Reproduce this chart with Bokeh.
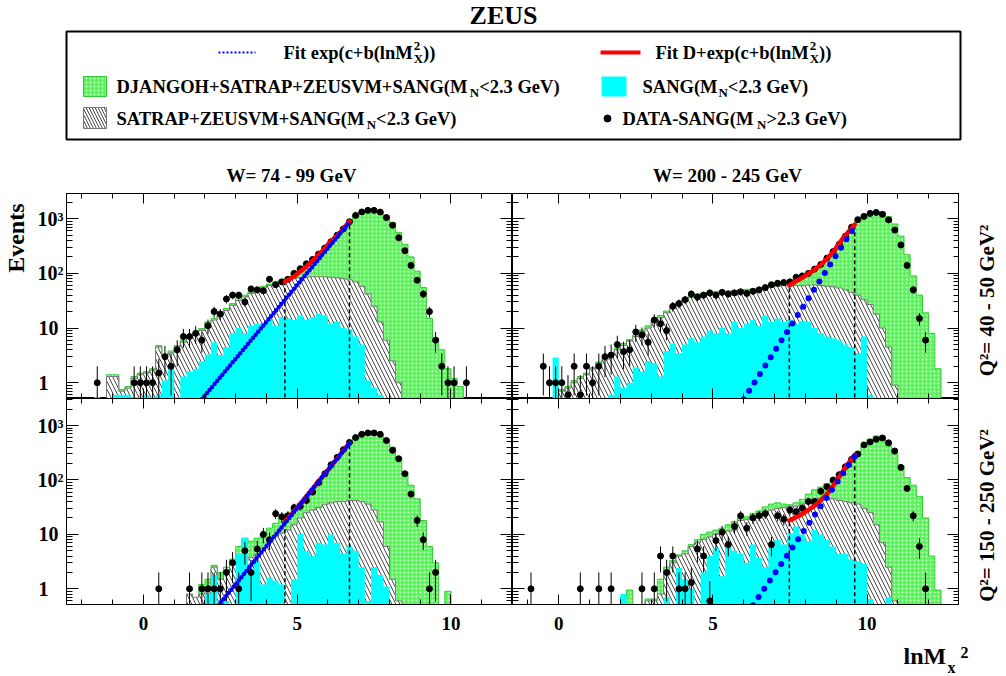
import math
from bokeh.plotting import figure
from bokeh.models import Range1d, FixedTicker, LinearAxis, LogAxis, CustomJSTickFormatter
from bokeh.layouts import column, row
from bokeh.core.properties import value
from bokeh.embed import file_html
from bokeh.resources import INLINE

FONT = "Liberation Serif"
BIN = 0.2      # histogram bin width in lnMx^2
BOT = 0.3      # floor (below the visible y range)

# ---------------- panel 1 : W = 74-99 GeV, Q2 = 40-50 GeV2 ----------------
P1_green_x0 = -1.2
P1_green = [1.4, 1.4, 0.75, 0.85, 1.3, 1.5, 1.6, 1.8, 4.8, 3.2, 3.8, 4.8, 6, 7, 8, 9.8, 13, 15, 18.5, 23,
            28, 35, 40, 46, 52, 58, 64, 70, 76, 85, 105, 125, 155, 190, 240, 310, 400, 520, 680, 900,
            1150, 1350, 1450, 1450, 1350, 1150, 850, 560, 340, 200, 110, 55, 15, 6.5, 4, 1.8, 1.2, 0.85]
P1_hatch_x0 = -1.2
P1_hatch = [1.3, 1.3, 0.7, 0.8, 1.2, 1.4, 1.5, 1.7, 4.5, 3, 3.5, 4.5, 5.5, 6.5, 7.5, 9, 12, 14, 17, 21,
            26, 32, 37, 43, 48, 54, 60, 66, 72, 77, 81, 84, 86, 87, 87, 86, 85, 83, 80, 76,
            70, 58, 42, 25, 13, 6, 2.5, 1.0, 0.45]
P1_cyan_x0 = -1.6
P1_cyan = [0.55, 0, 0, 0.6, 0.6, 0.6, 0.55, 0.55, 0.6, 0.55, 0.6, 1.1, 1.8, 0.55, 1.3, 1.6, 1.8, 2.5, 3.3, 5.5,
           3.2, 4.5, 8, 10, 8, 11, 12, 12, 14, 11, 16, 15, 14, 17, 14, 16, 18, 17, 12, 13,
           10, 9.5, 7, 5, 1.1, 0.8, 0.6]
P1_data_x = [-1.5, -0.3, -0.1, 0.1, 0.3, 0.5, 0.7, 0.9, 1.1, 1.3, 1.5, 1.7, 1.9, 2.1, 2.3, 2.5, 2.7, 2.9,
             3.1, 3.3, 3.5, 3.7, 3.9, 4.1, 4.3, 4.5, 4.7, 4.9, 5.1, 5.3, 5.5, 5.7, 5.9, 6.1, 6.3, 6.5,
             6.7, 6.9, 7.1, 7.3, 7.5, 7.7, 7.9, 8.1, 8.3, 8.5, 8.7, 8.9, 9.1, 9.3, 9.5, 9.7, 9.9, 10.1, 10.5]
P1_data_y = [1, 1, 1, 1, 1, 1.5, 3, 2, 4, 7, 7, 8, 6, 11, 20, 18, 34, 40,
             40, 30, 52, 50, 48, 78, 62, 70, 78, 100, 122, 150, 180, 225, 290, 380, 500, 650,
             880, 1150, 1330, 1420, 1420, 1320, 1050, 760, 450, 260, 140, 75, 42, 20, 6, 2, 1, 1, 1]
P1_red_x = [4.6, 4.9, 5.2, 5.5, 5.8, 6.1, 6.4, 6.7]
P1_red_y = [70, 88, 120, 170, 250, 390, 560, 890]
P1_blue_x = [1.9, 6.7]
P1_blue_y = [0.5, 860]
P1_cut_x = [4.6, 6.7]
P1_cut_top = [70, 890]

# ---------------- panel 2 : W = 200-245 GeV, Q2 = 40-50 GeV2 ----------------
P2_green_x0 = 0.0
P2_green = [0.75, 0.85, 1.1, 1.3, 1.5, 1.9, 2.4, 2.8, 3.4, 4.3, 5.2, 6.2, 7.5, 9.2, 11, 14, 17, 20.5, 25, 30,
            35, 39, 42, 44, 45, 46, 46.5, 47.5, 48.5, 50, 51, 52, 54, 57, 60, 63, 66, 72, 80, 90,
            100, 120, 145, 190, 250, 340, 480, 680, 900, 1100, 1250, 1350, 1320, 1100, 800, 480, 220, 90, 40, 19,
            8, 1.8]
P2_hatch_x0 = 0.0
P2_hatch = [0.7, 0.8, 1.0, 1.2, 1.4, 1.8, 2.2, 2.6, 3.2, 4, 4.8, 5.8, 7, 8.5, 10, 13, 15.5, 19, 23, 28,
            33, 36, 39, 41, 42, 43, 43, 44, 45, 46, 47, 48, 50, 53, 56, 58, 60, 60, 60, 60,
            61, 61, 60, 58, 57, 54, 50, 45, 40, 33, 27, 18, 10, 4.5, 0.9]
P2_cyan_x0 = -0.2
P2_cyan = [2.9, 0, 0, 0, 0, 0, 0, 0, 0, 0.6, 1.3, 0.8, 1.0, 1.9, 1.6, 2.5, 2.3, 1.3, 3.8, 5.2,
           3.5, 5, 6.5, 5.5, 7, 9, 8, 10, 8, 13, 10, 12, 14, 11, 17, 13, 15, 13, 14, 12,
           13.6, 13, 10, 8, 7, 6.5, 6, 5, 4.5, 3.5, 7, 0.6]
P2_data_x = [-0.5, -0.3, -0.1, 0.1, 0.3, 0.5, 0.7, 0.9, 1.1, 1.3, 1.5, 1.7, 1.9, 2.1, 2.3, 2.5, 2.7, 2.9,
             3.1, 3.3, 3.5, 3.7, 3.9, 4.1, 4.3, 4.5, 4.7, 4.9, 5.1, 5.3, 5.5, 5.7, 5.9, 6.1, 6.3, 6.5,
             6.7, 6.9, 7.1, 7.3, 7.5, 7.7, 7.9, 8.1, 8.3, 8.5, 8.7, 8.9, 9.1, 9.3, 9.5, 9.7, 9.9, 10.1,
             10.3, 10.5, 10.7, 10.9, 11.1, 11.3, 11.5, 11.7, 11.9]
P2_data_y = [2, 1, 1, 1, 0.6, 2, 0.6, 2, 1, 2, 3, 3.2, 5, 3.7, 4, 8.5, 7.5, 5.5,
             14, 12, 9, 25, 28, 33, 42, 37, 40, 44, 40, 45, 42, 44, 46, 43, 47, 50,
             55, 62, 66, 68, 70, 85, 90, 100, 120, 145, 190, 250, 340, 480, 700, 960, 1100, 1250,
             1300, 1200, 950, 620, 330, 140, 50, 15, 6]
P2_red_x = [7.48, 7.7, 7.93, 8.2, 8.47, 8.7, 8.9, 9.2, 9.4, 9.6]
P2_red_y = [60, 72, 85, 108, 139, 185, 245, 425, 580, 780]
P2_blue_x = [6.0, 9.6]
P2_blue_y = [0.5, 720]
P2_cut_x = [7.48, 9.6]
P2_cut_top = [60, 790]

# ---------------- panel 3 : W = 74-99 GeV, Q2 = 150-250 GeV2 ----------------
P3_green_x0 = 1.8
P3_green = [1.2, 1.5, 2.7, 2, 2.5, 3.5, 6, 8.5, 7.5, 8.5, 10, 13, 16, 20, 24, 30, 37, 46, 60, 82,
            115, 165, 240, 340, 470, 620, 720, 760, 740, 680, 560, 400, 250, 140, 80, 45, 18, 6, 3, 0.45,
            0.9]
P3_hatch_x0 = 1.4
P3_hatch = [0.8, 0.7, 0.8, 1.0, 2.5, 1.5, 2, 2.8, 3, 3.2, 3.8, 4.3, 5.5, 7, 9, 10.5, 12, 15, 20, 25,
            28, 31, 35, 38, 40, 40, 42, 42, 40, 36, 28, 17, 6, 1.5, 0.6]
P3_cyan_x0 = 2.0
P3_cyan = [0.8, 1.8, 0, 0.6, 0, 4.4, 8.7, 2, 3.2, 1.2, 1.6, 1.4, 1.2, 0, 1.5, 10.3, 5, 4, 7, 6.5,
           10, 7, 4.4, 6, 5, 2.5, 0.6, 2.5, 1.8, 1.1]
P3_data_x = [0.5, 1.5, 1.9, 2.1, 2.3, 2.5, 2.7, 2.9, 3.1, 3.3, 3.5, 3.7, 3.9, 4.1, 4.3, 4.5, 4.7, 4.9,
             5.1, 5.3, 5.5, 5.7, 5.9, 6.1, 6.3, 6.5, 6.7, 6.9, 7.1, 7.3, 7.5, 7.7, 7.9, 8.1, 8.3, 8.5,
             8.7, 8.9, 9.1, 9.3, 9.5]
P3_data_y = [1, 1, 1, 1, 1, 1, 2, 3, 1, 5, 2, 5.4, 10, 8, 24, 21, 22, 31,
             33, 42, 60, 90, 130, 190, 260, 360, 490, 600, 690, 730, 730, 690, 530, 350, 245, 130,
             55, 18, 8, 1, 2]
P3_red_x = [4.6, 5.0, 5.5, 6.0, 6.4, 6.7]
P3_red_y = [17, 31, 69, 152, 295, 475]
P3_blue_x = [2.45, 6.7]
P3_blue_y = [0.5, 470]
P3_cut_x = [4.6, 6.7]
P3_cut_top = [17, 470]

# ---------------- panel 4 : W = 200-245 GeV, Q2 = 150-250 GeV2 ----------------
P4_green_x0 = 2.0
P4_green = [0.7, 0.95, 0, 0, 0.65, 0.65, 1.5, 2.5, 3.3, 4.2, 5, 6.5, 8, 10, 11, 12, 13, 15, 17, 20,
            21, 24, 27, 32, 36, 38, 36, 35, 38, 44, 55, 66, 74, 85, 100, 130, 180, 240, 320, 420,
            560, 640, 620, 420, 300, 180, 110, 80, 50, 20, 4, 0.95]
P4_hatch_x0 = 2.8
P4_hatch = [0.6, 0.6, 0.8, 1.8, 3, 4, 4.4, 6, 7, 8, 9, 10, 11, 11.5, 12, 18, 19, 21, 23, 25,
            28, 30, 31, 33, 33, 36, 42, 45, 46, 48, 45, 42, 40, 38, 36, 30, 25, 15, 7, 2.5,
            0.6]
P4_cyan_x0 = 2.0
P4_cyan = [0.8, 0, 0, 0, 0, 0, 0, 0.7, 0, 2.4, 1.5, 1, 0, 2, 4, 5.6, 1.7, 7, 5, 4.4,
           3, 6.5, 3.7, 2.5, 5.6, 8, 6.5, 10.4, 14, 10, 7.5, 12, 10, 8, 6, 4.4, 4.4, 3.5, 3.2, 2.9,
           0.65, 0, 0, 0.7]
P4_data_x = [-0.9, 0.7, 1.3, 1.7, 2.7, 3.1, 3.3, 3.5, 3.7, 3.9, 4.1, 4.3, 4.5, 4.7, 4.9, 5.1, 5.3, 5.5,
             5.7, 5.9, 6.1, 6.3, 6.5, 6.7, 6.9, 7.1, 7.3, 7.5, 7.7, 7.9, 8.1, 8.3, 8.5, 8.7, 8.9, 9.1,
             9.3, 9.5, 9.7, 9.9, 10.1, 10.3, 10.5, 10.7, 10.9, 11.1, 11.3, 11.5, 11.7, 11.9]
P4_data_y = [1, 1, 1, 1, 1, 1, 4, 2, 4, 1, 1, 1.3, 5.4, 4, 0.6, 7.7, 11, 6.5,
             14, 22, 13, 20, 22, 24, 6.5, 22, 19, 28, 26, 30, 40, 40, 62, 75, 100, 125,
             175, 240, 300, 440, 500, 560, 590, 480, 340, 170, 70, 22, 6, 1]
P4_red_x = [7.48, 7.8, 8.1, 8.4, 8.7, 8.9, 9.1, 9.3, 9.6]
P4_red_y = [18, 22, 28, 37, 55, 78, 115, 170, 290]
P4_blue_x = [6.3, 9.6]
P4_blue_y = [0.5, 270]
P4_cut_x = [7.48, 9.6]
P4_cut_top = [18, 290]

# axis ticks / labels
X_MAJOR = [0, 5, 10]
X_MINOR = list(range(-3, 14))
Y_MAJOR = [1, 10, 100, 1000]
Y_MINOR = [m * 10 ** e for e in range(-1, 4) for m in range(2, 10)]
Y_LABELS = {1: "1\u00a0\u00a0\u00a0", 10: "10\u00a0", 100: "10\u00b2", 1000: "10\u00b3"}
COL_TITLES = ["W= 74 - 99 GeV", "W= 200 - 245 GeV"]
ROW_TITLES = ["Q\u00b2= 40 - 50 GeV\u00b2", "Q\u00b2= 150 - 250 GeV\u00b2"]

GREEN = "#5cf25c"
CYAN = "#00ffff"


def step_path(x0, vals):
    xs, ys = [x0], [BOT]
    for i, v in enumerate(vals):
        left = x0 + i * BIN
        vv = v if v > 0 else BOT
        xs += [left, left + BIN]
        ys += [vv, vv]
    xs.append(x0 + len(vals) * BIN)
    ys.append(BOT)
    return xs, ys


def style_axis(ax, ticker, labeled, tin, mtin, size="19px", standoff=0, overrides=None):
    ax.ticker = ticker
    ax.major_tick_in = tin
    ax.major_tick_out = 0
    ax.minor_tick_in = mtin
    ax.minor_tick_out = 0
    ax.axis_line_color = "black"
    ax.major_tick_line_color = "black"
    ax.minor_tick_line_color = "black"
    if labeled:
        ax.major_label_text_font = FONT
        ax.major_label_text_font_style = "bold"
        ax.major_label_text_font_size = size
        ax.major_label_text_color = "black"
        ax.major_label_standoff = standoff
        if overrides:
            ax.major_label_overrides = overrides
    else:
        ax.formatter = CustomJSTickFormatter(code="return '';")
        ax.major_label_text_font_size = "1px"
        ax.major_label_standoff = 0


def make_panel(xr, yr, w, h, bl, bb, left_lab, bottom_lab):
    p = figure(width=w, height=h, x_range=Range1d(*xr), y_range=Range1d(*yr), y_axis_type="log",
               output_backend="svg", toolbar_location=None, title=None,
               min_border_left=bl, min_border_right=0, min_border_top=0, min_border_bottom=bb,
               background_fill_color="white", border_fill_color="white",
               outline_line_color="black")
    p.grid.visible = False
    top = LinearAxis()
    right = LogAxis()
    p.add_layout(top, "above")
    p.add_layout(right, "right")
    xt = FixedTicker(ticks=X_MAJOR, minor_ticks=X_MINOR)
    yt = FixedTicker(ticks=Y_MAJOR, minor_ticks=Y_MINOR)
    style_axis(p.below[0], xt, bottom_lab, 10, 5, "19px", 12)
    style_axis(top, xt, False, 10, 5)
    style_axis(p.left[0], yt, left_lab, 12, 6, "20px", 3, Y_LABELS)
    style_axis(right, yt, False, 12, 6)
    return p


def draw_panel(p, gx0, g, hx0, hh, cx0, c, dx, dy, rx, ry, bx, by, cutx, cutt, dense):
    xs, ys = step_path(gx0, g)
    p.patch(xs, ys, fill_color=GREEN, line_color=None, hatch_pattern="dot",
            hatch_color="white", hatch_scale=4, hatch_weight=1.5, hatch_alpha=0.7)
    p.line(xs, ys, line_color="#33cc33", line_width=1)
    xs, ys = step_path(hx0, hh)
    p.patch(xs, ys, fill_color="white", line_color=None, hatch_pattern="left_diagonal_line",
            hatch_color="#333333", hatch_scale=8, hatch_weight=0.9)
    p.line(xs, ys, line_color="#777777", line_width=1)
    xs, ys = step_path(cx0, c)
    p.patch(xs, ys, fill_color=CYAN, line_color=None)
    p.segment(x0=cutx, y0=[BOT] * len(cutx), x1=cutx, y1=cutt, line_color="black",
              line_width=1.5, line_dash="4 3")
    lo = [max(v - math.sqrt(v), 0.05) for v in dy]
    hi = [v + math.sqrt(v) for v in dy]
    p.segment(x0=dx, y0=lo, x1=dx, y1=hi, line_color="black", line_width=1)
    p.scatter(dx, dy, size=6, color="black")
    p.line(rx, ry, line_color="red", line_width=4.5, line_cap="round")
    if dense:
        p.line(bx, by, line_color="blue", line_width=4.5, line_dash="0 4", line_cap="round")
    else:
        p.line(bx, by, line_color="blue", line_width=6, line_dash="0 10", line_cap="round")


def strip(w, h):
    f = figure(width=w, height=h, x_range=Range1d(0, w), y_range=Range1d(h, 0),
               x_axis_type=None, y_axis_type=None, toolbar_location=None, output_backend="svg",
               min_border_left=0, min_border_right=0, min_border_top=0, min_border_bottom=0,
               outline_line_color=None, title=None, background_fill_color="white",
               border_fill_color="white")
    return f


def put(f, x, y, txt, size, align="left", angle=0.0):
    f.text(x=[x], y=[y], text=[txt], text_font=value(FONT), text_font_style=value("bold"),
           text_font_size=value("%.2fpx" % size), text_color="black", angle=angle,
           text_align=align, text_baseline="middle")


YR_TOP = (0.515, 2890)
YR_BOT = (0.515, 3135)
XR_L = (-2.5, 12.0)
XR_R = (-1.5, 13.0)

p1 = make_panel(XR_L, YR_TOP, 482, 205, 36, 0, True, False)
p2 = make_panel(XR_R, YR_TOP, 447, 205, 0, 0, False, False)
p3 = make_panel(XR_L, YR_BOT, 482, 246, 36, 40, True, True)
p4 = make_panel(XR_R, YR_BOT, 447, 246, 0, 40, False, True)

draw_panel(p1, P1_green_x0, P1_green, P1_hatch_x0, P1_hatch, P1_cyan_x0, P1_cyan,
           P1_data_x, P1_data_y, P1_red_x, P1_red_y, P1_blue_x, P1_blue_y, P1_cut_x, P1_cut_top, True)
draw_panel(p2, P2_green_x0, P2_green, P2_hatch_x0, P2_hatch, P2_cyan_x0, P2_cyan,
           P2_data_x, P2_data_y, P2_red_x, P2_red_y, P2_blue_x, P2_blue_y, P2_cut_x, P2_cut_top, False)
draw_panel(p3, P3_green_x0, P3_green, P3_hatch_x0, P3_hatch, P3_cyan_x0, P3_cyan,
           P3_data_x, P3_data_y, P3_red_x, P3_red_y, P3_blue_x, P3_blue_y, P3_cut_x, P3_cut_top, True)
draw_panel(p4, P4_green_x0, P4_green, P4_hatch_x0, P4_hatch, P4_cyan_x0, P4_cyan,
           P4_data_x, P4_data_y, P4_red_x, P4_red_y, P4_blue_x, P4_blue_y, P4_cut_x, P4_cut_top, False)

# side strips: axis title, row titles, x-axis title
left = strip(30, 451)
put(left, 15, 10, "Events", 24, align="right", angle=math.pi / 2)
right = strip(47, 451)
put(right, 27, 107, ROW_TITLES[0], 21, align="center", angle=math.pi / 2)
put(right, 27, 322, ROW_TITLES[1], 21, align="center", angle=math.pi / 2)
bottom = strip(1006, 32)
put(bottom, 903, 11, "lnM", 24)
put(bottom, 947, 23, "x", 16)
put(bottom, 960, 8, "2", 16)

# ---------------- header: title, legend, column titles ----------------
TB = {' ': 250, '(': 333, ')': 333, '+': 570, '-': 333, '.': 250, '<': 570, '>': 570, '=': 570,
      '0': 500, '1': 500, '2': 500, '3': 500, '4': 500, '5': 500, '6': 500, '7': 500, '8': 500, '9': 500,
      'A': 722, 'B': 667, 'C': 722, 'D': 722, 'E': 667, 'F': 611, 'G': 778, 'H': 778, 'I': 389, 'J': 500,
      'K': 778, 'L': 667, 'M': 944, 'N': 722, 'O': 778, 'P': 611, 'Q': 778, 'R': 722, 'S': 556, 'T': 667,
      'U': 722, 'V': 722, 'W': 1000, 'X': 722, 'Y': 722, 'Z': 667,
      'a': 500, 'b': 556, 'c': 444, 'd': 556, 'e': 444, 'f': 333, 'g': 500, 'h': 556, 'i': 278, 'j': 333,
      'k': 556, 'l': 278, 'm': 833, 'n': 556, 'o': 500, 'p': 556, 'q': 556, 'r': 444, 's': 389, 't': 333,
      'u': 556, 'v': 500, 'w': 722, 'x': 500, 'y': 500, 'z': 444}


def tw(s, size):
    return sum(TB.get(ch, 500) for ch in s) * size / 1000.0


hdr = strip(1006, 193)


def rich(x, y, parts, size=18.5):
    s2 = size * 0.7
    for txt, kind in parts:
        if kind == "n":
            put(hdr, x, y, txt, size)
            x += tw(txt, size)
        elif kind == "sub":
            put(hdr, x + 1, y + 0.32 * size, txt, s2)
            x += tw(txt, s2) + 1
        else:
            sub, sup = txt
            put(hdr, x + 1, y + 0.32 * size, sub, s2)
            put(hdr, x + 1, y - 0.36 * size, sup, s2)
            x += max(tw(sub, s2), tw(sup, s2)) + 1


put(hdr, 503, 15, "ZEUS", 26, align="center")
put(hdr, 291, 175, COL_TITLES[0], 19, align="center")
put(hdr, 727, 175, COL_TITLES[1], 19, align="center")
hdr.quad(left=[66], right=[960], top=[31], bottom=[139], fill_color=None,
         line_color="black", line_width=2)

R1, R2, R3 = 52, 86, 118
hdr.line([218, 255], [R1, R1], line_color="blue", line_width=2, line_dash="2 2")
rich(283, R1, [("Fit exp(c+b(lnM", "n"), (("X", "2"), "ss"), ("))", "n")])
hdr.line([600, 640], [R1, R1], line_color="red", line_width=4)
rich(655, R1, [("Fit D+exp(c+b(lnM", "n"), (("X", "2"), "ss"), ("))", "n")])

hdr.quad(left=[83], right=[106], top=[76], bottom=[96], fill_color=GREEN, line_color="#33cc33",
         hatch_pattern="dot", hatch_color="white", hatch_scale=4, hatch_weight=1.5, hatch_alpha=0.7)
rich(116, R2, [("DJANGOH+SATRAP+ZEUSVM+SANG(M", "n"), ("N", "sub"), ("<2.3 GeV)", "n")])
hdr.quad(left=[601], right=[626], top=[76], bottom=[96], fill_color=CYAN, line_color=None)
rich(642, R2, [("SANG(M", "n"), ("N", "sub"), ("<2.3 GeV)", "n")])

hdr.quad(left=[83], right=[106], top=[107], bottom=[128], fill_color="white", line_color="#777777",
         hatch_pattern="left_diagonal_line", hatch_color="#333333", hatch_scale=6, hatch_weight=0.9)
rich(116, R3, [("SATRAP+ZEUSVM+SANG(M", "n"), ("N", "sub"), ("<2.3 GeV)", "n")])
hdr.scatter([607], [R3], size=7, color="black")
rich(622, R3, [("DATA-SANG(M", "n"), ("N", "sub"), (">2.3 GeV)", "n")])

grid = column(row(p1, p2), row(p3, p4))
layout = column(hdr, row(left, grid, right), bottom)
open("out.html", "w").write(file_html(layout, INLINE))
